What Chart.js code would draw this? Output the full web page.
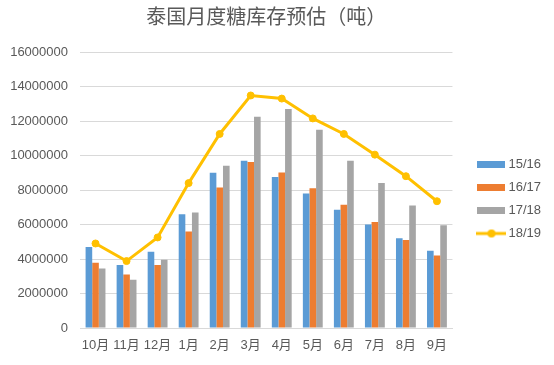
<!DOCTYPE html>
<html>
<head>
<meta charset="utf-8">
<script src="https://cdn.jsdelivr.net/npm/chart.js@4"></script>
<style>
  html, body { margin: 0; padding: 0; background: #fff; }
  #wrap { width: 554px; height: 365px; }
</style>
</head>
<body>
<div id="wrap"><canvas id="stockChart"></canvas></div>
<script>
// categorías (meses) y series
const months = ['10月', '11月', '12月', '1月', '2月', '3月', '4月', '5月', '6月', '7月', '8月', '9月'];
const s1516 = [4700000, 3650000, 4420000, 6600000, 9000000, 9700000, 8750000, 7800000, 6850000, 6000000, 5200000, 4480000];
const s1617 = [3780000, 3100000, 3650000, 5600000, 8150000, 9620000, 9020000, 8100000, 7150000, 6150000, 5100000, 4200000];
const s1718 = [3450000, 2800000, 3950000, 6700000, 9400000, 12250000, 12700000, 11500000, 9700000, 8400000, 7100000, 5950000];
const s1819 = [4900000, 3880000, 5250000, 8400000, 11250000, 13480000, 13300000, 12150000, 11250000, 10050000, 8800000, 7350000];
const yTicks = [0, 2000000, 4000000, 6000000, 8000000, 10000000, 12000000, 14000000, 16000000];

const FONT = "'Liberation Sans', Arial, 'Noto Sans CJK SC', sans-serif";
const GREY_TEXT = '#595959';

// iconos de la leyenda
function barIcon(color) {
    const c = document.createElement('canvas');
    c.width = 28; c.height = 7;
    const g = c.getContext('2d');
    g.fillStyle = color;
    g.fillRect(0, 0, 28, 7);
    return c;
}
function lineIcon(color) {
    const c = document.createElement('canvas');
    c.width = 30; c.height = 10;
    const g = c.getContext('2d');
    g.strokeStyle = color;
    g.lineWidth = 3;
    g.beginPath(); g.moveTo(0, 5); g.lineTo(30, 5); g.stroke();
    g.fillStyle = color;
    g.beginPath(); g.arc(15, 5, 4, 0, Math.PI * 2); g.fill();
    return c;
}

document.addEventListener('DOMContentLoaded', () => {
    const ctx = document.getElementById('stockChart');
    if (!ctx) return;

    const icons = [barIcon('#5B9BD5'), barIcon('#ED7D31'), barIcon('#A5A5A5'), lineIcon('#FFC000')];

    new Chart(ctx, {
        data: {
            labels: months,
            datasets: [
                { type: 'bar', label: '15/16', data: s1516, backgroundColor: '#5B9BD5', order: 1 },
                { type: 'bar', label: '16/17', data: s1617, backgroundColor: '#ED7D31', order: 1 },
                { type: 'bar', label: '17/18', data: s1718, backgroundColor: '#A5A5A5', order: 1 },
                {
                    type: 'line', label: '18/19', data: s1819,
                    borderColor: '#FFC000', backgroundColor: '#FFC000',
                    borderWidth: 3, pointRadius: 3.5, pointBorderWidth: 1, pointHoverRadius: 3.5,
                    tension: 0, order: 0
                }
            ]
        },
        options: {
            responsive: true,
            maintainAspectRatio: false,
            animation: false,
            datasets: {
                bar: { categoryPercentage: 0.64, barPercentage: 1.0 }
            },
            layout: { padding: { left: 0, right: 3, top: 0, bottom: 0 } },
            scales: {
                x: {
                    afterFit: (s) => { s.height = 37; },
                    grid: { display: false, drawTicks: false },
                    border: { display: true, color: '#D9D9D9', width: 1 },
                    ticks: {
                        color: GREY_TEXT, font: { family: FONT, size: 13 }, padding: 10,
                        maxRotation: 0, minRotation: 0, autoSkip: false
                    }
                },
                y: {
                    min: 0,
                    max: 16000000,
                    afterBuildTicks: (axis) => { axis.ticks = yTicks.map(v => ({ value: v })); },
                    afterFit: (s) => { s.width = 80; },
                    grid: { color: '#D9D9D9', drawTicks: false },
                    border: { display: false },
                    ticks: {
                        color: GREY_TEXT, font: { family: FONT, size: 13 }, padding: 12,
                        callback: (v) => String(v)
                    }
                },
                // hueco entre el área del gráfico y la leyenda
                gap: {
                    type: 'linear',
                    position: 'right',
                    display: true,
                    afterFit: (s) => { s.width = 18.5; },
                    grid: { display: false, drawTicks: false },
                    border: { display: false },
                    ticks: { display: false }
                }
            },
            plugins: {
                title: {
                    display: true,
                    text: '泰国月度糖库存预估（吨）',
                    color: GREY_TEXT,
                    font: { family: FONT, size: 20, weight: 'normal' },
                    fullSize: false,
                    padding: { top: 6, bottom: 22 }
                },
                legend: {
                    position: 'right',
                    fullSize: false,
                    title: { display: true, text: '', font: { size: 10, lineHeight: 1 }, padding: 4 },
                    labels: {
                        color: GREY_TEXT,
                        font: { family: FONT, size: 13 },
                        usePointStyle: true,
                        pointStyleWidth: 21,
                        boxHeight: 13,
                        padding: 10,
                        sort: (a, b) => a.datasetIndex - b.datasetIndex,
                        generateLabels: (chart) => {
                            const items = Chart.defaults.plugins.legend.labels.generateLabels(chart);
                            items.forEach(it => { it.pointStyle = icons[it.datasetIndex]; });
                            return items;
                        }
                    }
                },
                tooltip: { enabled: false }
            }
        }
    });
});
</script>
</body>
</html>
